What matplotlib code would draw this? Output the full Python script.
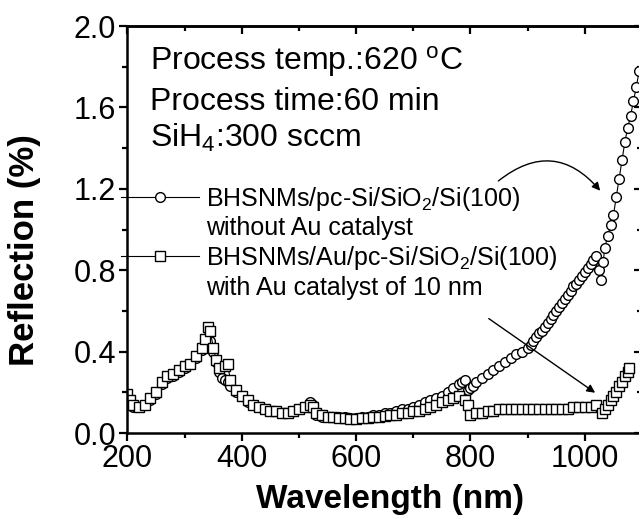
import matplotlib
matplotlib.use("Agg")
import matplotlib.pyplot as plt
from matplotlib.lines import Line2D
from matplotlib.ticker import MultipleLocator

plt.rcParams['font.family'] = ['Liberation Sans', 'DejaVu Sans']
plt.rcParams['mathtext.fontset'] = 'custom'
plt.rcParams['mathtext.rm'] = 'Liberation Sans'
plt.rcParams['mathtext.it'] = 'Liberation Sans:italic'
plt.rcParams['mathtext.bf'] = 'Liberation Sans:bold'

# ---- data ----
wl_noau = [200, 205, 210, 215, 220, 230, 240, 250, 260, 270, 280, 290, 300, 310, 320, 330, 335,
           340, 345, 350, 355, 360, 365, 370, 375, 380, 390, 400, 410, 420, 430, 440, 450, 460,
           470, 480, 490, 500, 510, 520, 525, 530, 540, 550, 560, 570, 580, 590, 600, 610,
           620, 630, 640, 650, 660, 670, 680, 690, 700, 710, 720, 730, 740, 750, 760, 770,
           780, 785, 790, 795, 800, 805, 810, 820, 830, 840, 850, 860, 870, 880, 890, 900, 905,
           910, 915, 920, 925, 930, 935, 940, 945, 950, 955, 960, 965, 970, 975, 980, 985, 990,
           995, 1000, 1005, 1010, 1015, 1020, 1025, 1028, 1032, 1035, 1040, 1045,
           1050, 1055, 1060, 1065, 1070, 1075, 1080, 1085, 1090, 1095]
r_noau = [0.18, 0.15, 0.13, 0.13, 0.13, 0.14, 0.16, 0.19, 0.24, 0.27, 0.28, 0.30, 0.32, 0.34, 0.37, 0.41, 0.44,
          0.47, 0.45, 0.40, 0.35, 0.30, 0.27, 0.26, 0.25, 0.23, 0.20, 0.18, 0.15, 0.14, 0.13, 0.12, 0.11, 0.11,
          0.10, 0.10, 0.11, 0.12, 0.13, 0.15, 0.14, 0.09, 0.08, 0.08, 0.08, 0.08, 0.08, 0.075, 0.075, 0.08,
          0.08, 0.09, 0.09, 0.10, 0.10, 0.11, 0.12, 0.12, 0.13, 0.14, 0.15, 0.16, 0.17, 0.18, 0.20, 0.22,
          0.24, 0.25, 0.26, 0.21, 0.22, 0.23, 0.25, 0.27, 0.29, 0.31, 0.33, 0.35, 0.37, 0.39, 0.40, 0.42, 0.43,
          0.45, 0.47, 0.49, 0.50, 0.52, 0.54, 0.56, 0.58, 0.60, 0.62, 0.64, 0.66, 0.68, 0.70, 0.72, 0.73, 0.75,
          0.77, 0.79, 0.81, 0.83, 0.85, 0.87, 0.80, 0.75, 0.84, 0.91, 0.97, 1.02,
          1.07, 1.16, 1.25, 1.34, 1.43, 1.50, 1.56, 1.63, 1.70, 1.78]

wl_au = [200, 205, 210, 220, 230, 240, 250, 260, 270, 280, 290, 300, 310, 320, 330, 335, 340,
         345, 350, 355, 360, 370, 375, 380, 390, 400, 410, 420, 430, 440, 450, 460, 470,
         480, 490, 500, 510, 520, 525, 530, 540, 550, 560, 570, 580, 590, 600, 610, 620,
         630, 640, 650, 660, 670, 680, 690, 700, 710, 720, 730, 740, 750, 760, 770, 780,
         790, 795, 800, 810, 820, 830, 840, 850, 860, 870, 880, 890, 900, 910, 920, 930,
         940, 950, 960, 970, 980, 990, 1000, 1010, 1020, 1030, 1035, 1040, 1045, 1050, 1055,
         1060, 1065, 1070, 1075, 1078]
r_au = [0.19, 0.16, 0.14, 0.13, 0.14, 0.17, 0.20, 0.25, 0.28, 0.29, 0.31, 0.33, 0.34, 0.38, 0.42, 0.46, 0.52,
        0.50, 0.42, 0.36, 0.32, 0.33, 0.34, 0.26, 0.21, 0.18, 0.16, 0.14, 0.13, 0.12, 0.11, 0.11, 0.10,
        0.10, 0.11, 0.12, 0.13, 0.14, 0.13, 0.10, 0.09, 0.08, 0.08, 0.075, 0.075, 0.07, 0.07, 0.075, 0.075,
        0.08, 0.08, 0.085, 0.09, 0.09, 0.10, 0.10, 0.11, 0.11, 0.12, 0.13, 0.14, 0.15, 0.16, 0.17, 0.18,
        0.16, 0.14, 0.09, 0.10, 0.10, 0.11, 0.11, 0.12, 0.12, 0.12, 0.12, 0.12, 0.12, 0.12, 0.12, 0.12,
        0.12, 0.12, 0.12, 0.12, 0.13, 0.13, 0.13, 0.13, 0.14, 0.10, 0.12, 0.14, 0.16, 0.18, 0.20,
        0.23, 0.25, 0.28, 0.30, 0.32]

label_noau = ["BHSNMs/pc-Si/SiO$_2$/Si(100)", "without Au catalyst"]
label_au = ["BHSNMs/Au/pc-Si/SiO$_2$/Si(100)", "with Au catalyst of 10 nm"]
info_lines = [r"Process temp.:620 $^{\mathrm{o}}$C", "Process time:60 min", "SiH$_4$:300 sccm"]

x_ticks = [200, 400, 600, 800, 1000]
y_ticks = [0.0, 0.4, 0.8, 1.2, 1.6, 2.0]

fig = plt.figure(figsize=(6.39, 5.2), dpi=100)
ax = fig.add_axes([0.1995, 0.1673, 0.8052, 0.7827])

mk = dict(color='black', lw=0.8, markersize=7, markerfacecolor='white',
          markeredgecolor='black', markeredgewidth=1.0)
h1, = ax.plot(wl_noau, r_noau, marker='o', **mk)
h2, = ax.plot(wl_au, r_au, marker='s', **mk)

ax.set_xlim(200, 1100)
ax.set_ylim(0, 2.0)
ax.set_xticks(x_ticks)
ax.set_yticks(y_ticks)
ax.set_yticklabels([f"{v:.1f}" for v in y_ticks])
ax.xaxis.set_minor_locator(MultipleLocator(100))
ax.yaxis.set_minor_locator(MultipleLocator(0.2))
ax.tick_params(which='both', direction='out', labelsize=22, width=1.6, pad=2)
ax.tick_params(which='major', length=6)
ax.tick_params(which='minor', length=3.5)
for s in ax.spines.values():
    s.set_linewidth(1.8)

top = ax.secondary_xaxis('top')
top.set_xticks(x_ticks)
top.xaxis.set_minor_locator(MultipleLocator(100))
top.tick_params(which='both', direction='in', labeltop=False, width=1.6)
top.tick_params(which='major', length=6)
top.tick_params(which='minor', length=3.5)
top.spines['top'].set_linewidth(1.8)
right = ax.secondary_yaxis('right')
right.set_yticks(y_ticks)
right.yaxis.set_minor_locator(MultipleLocator(0.2))
right.tick_params(which='both', direction='in', labelright=False, width=1.6)
right.tick_params(which='major', length=6)
right.tick_params(which='minor', length=3.5)

ax.set_xlabel("Wavelength (nm)", fontsize=24, fontweight='bold', labelpad=8)
ax.xaxis.set_label_coords(0.51, -0.125)
ax.set_ylabel("Reflection (%)", fontsize=25, fontweight='bold')
ax.yaxis.set_label_coords(-0.168, 0.45)

for t, yy in zip(info_lines, [0.893, 0.793, 0.703]):
    ax.text(0.044, yy, t, transform=ax.transAxes, fontsize=23, va='baseline', ha='left')

blank = Line2D([], [], linestyle='none')
ax.legend([h1, blank, h2, blank], [label_noau[0], label_noau[1], label_au[0], label_au[1]],
          loc='upper left', bbox_to_anchor=(-0.012, 0.61), frameon=False, fontsize=18,
          handlelength=3.1, handletextpad=0.3, labelspacing=0.15, borderpad=0, borderaxespad=0)

ax.annotate("", xy=(1030, 1.18), xytext=(845, 1.23),
            arrowprops=dict(arrowstyle='-|>', color='black', lw=1.0,
                            connectionstyle='arc3,rad=-0.5', mutation_scale=12))
ax.annotate("", xy=(1022, 0.19), xytext=(828, 0.57),
            arrowprops=dict(arrowstyle='-|>', color='black', lw=1.0, mutation_scale=12))

fig.savefig("out.png", dpi=100)
